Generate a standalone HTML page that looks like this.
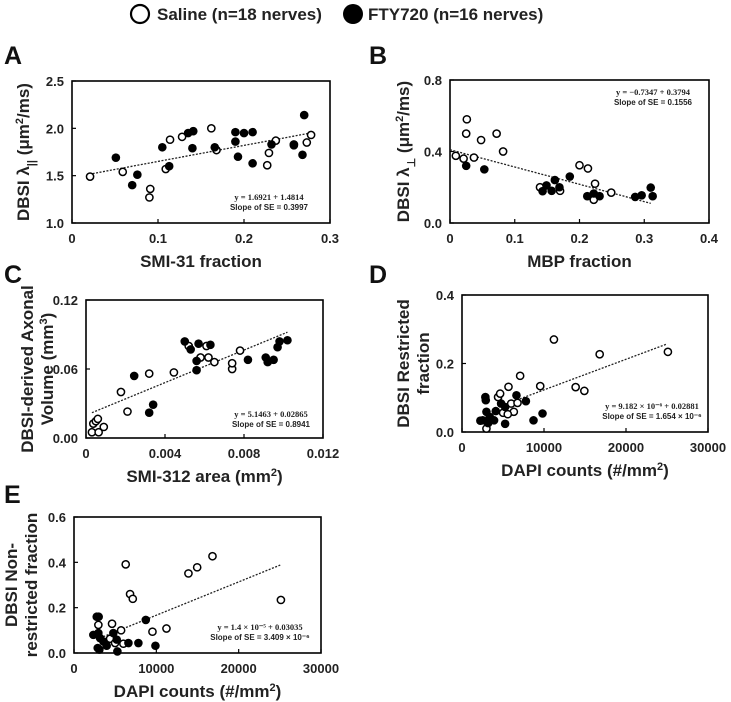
<!DOCTYPE html>
<html><head><meta charset="utf-8">
<style>
html,body{margin:0;padding:0;background:#fff;}
svg{display:block;font-family:"Liberation Sans",Arial,sans-serif;}
.tick{font-size:13px;font-weight:bold;fill:#222;}
.title{font-size:17px;font-weight:bold;fill:#222;}
.letter{font-size:25px;font-weight:bold;fill:#111;}
.eq{font-family:"Liberation Serif",serif;font-size:8.5px;font-weight:bold;fill:#222;}
.eq2{font-size:8px;font-weight:bold;fill:#222;}
</style></head>
<body>
<svg id="fig" width="731" height="702" viewBox="0 0 731 702">
  <g>
    <circle cx="140" cy="14" r="9" fill="#fff" stroke="#000" stroke-width="2.2"/>
    <text x="157" y="20" class="title">Saline (n=18 nerves)</text>
    <circle cx="353" cy="14" r="10" fill="#000"/>
    <text x="368" y="20" class="title">FTY720 (n=16 nerves)</text>
  </g>
  <text x="4" y="64" class="letter">A</text>
  <text x="369" y="64" class="letter">B</text>
  <text x="4" y="283" class="letter">C</text>
  <text x="369" y="283" class="letter">D</text>
  <text x="4" y="503" class="letter">E</text>
</svg>
<script>
// Panel A
const aOpenX=[0.021,0.059,0.091,0.090,0.109,0.114,0.128,0.162,0.168,0.227,0.229,0.237,0.258,0.273,0.278];
const aOpenY=[1.49,1.54,1.36,1.27,1.57,1.88,1.91,2.0,1.77,1.61,1.74,1.87,1.83,1.85,1.93];
const aFillX=[0.051,0.070,0.076,0.105,0.113,0.135,0.141,0.140,0.166,0.190,0.190,0.193,0.200,0.210,0.210,0.232,0.258,0.268,0.270];
const aFillY=[1.69,1.40,1.51,1.80,1.60,1.95,1.97,1.79,1.80,1.96,1.86,1.70,1.95,1.96,1.63,1.83,1.82,1.72,2.14];
const aTrendX=[0.02,0.28];
const aTrendY=[1.515,1.955];
const aXTicks=["0","0.1","0.2","0.3"];
const aYTicks=["1.0","1.5","2.0","2.5"];
// Panel B
const bOpenX=[0.009,0.021,0.026,0.025,0.037,0.048,0.072,0.082,0.139,0.200,0.213,0.224,0.222,0.249,0.170];
const bOpenY=[0.376,0.36,0.58,0.50,0.366,0.464,0.50,0.40,0.20,0.323,0.305,0.22,0.13,0.17,0.18];
const bFillX=[0.025,0.053,0.143,0.149,0.157,0.162,0.169,0.185,0.212,0.222,0.231,0.286,0.296,0.310,0.313];
const bFillY=[0.32,0.30,0.178,0.21,0.18,0.24,0.20,0.26,0.15,0.165,0.15,0.146,0.155,0.198,0.15];
const bTrendX=[0,0.31];
const bTrendY=[0.41,0.11];
const bXTicks=["0","0.1","0.2","0.3","0.4"];
const bYTicks=["0.0","0.4","0.8"];
// Panel C
const cOpenX=[0.0003,0.00064,0.00037,0.0005,0.0006,0.0009,0.00177,0.0021,0.0032,0.00445,0.0052,0.0058,0.0062,0.0065,0.0074,0.0074,0.0078,0.0061];
const cOpenY=[0.005,0.005,0.0125,0.0146,0.0166,0.0096,0.040,0.023,0.056,0.057,0.080,0.070,0.070,0.066,0.060,0.065,0.076,0.080];
const cFillX=[0.00244,0.0032,0.0034,0.0050,0.0053,0.0057,0.0056,0.0056,0.0063,0.0082,0.0091,0.0092,0.0095,0.0097,0.0098,0.0102];
const cFillY=[0.054,0.022,0.029,0.084,0.077,0.082,0.067,0.059,0.081,0.068,0.070,0.066,0.068,0.079,0.084,0.085];
const cTrendX=[0.0003,0.0102];
const cTrendY=[0.022,0.092];
const cXTicks=["0","0.004","0.008","0.012"];
const cYTicks=["0.00","0.06","0.12"];
// Panel D
const dOpenX=[11210,16790,25110,7090,5670,9540,13860,14920,4400,4650,6000,6770,6320,5010,5580,2980];
const dOpenY=[0.27,0.227,0.234,0.164,0.132,0.134,0.131,0.12,0.102,0.112,0.083,0.085,0.059,0.056,0.052,0.01];
const dFillX=[2850,2900,2530,2240,2980,3380,3910,4120,4770,5260,5260,6640,7790,8720,9820,3180];
const dFillY=[0.102,0.093,0.034,0.033,0.059,0.044,0.034,0.061,0.083,0.073,0.024,0.107,0.090,0.034,0.054,0.026];
const dTrendX=[6640,25000];
const dTrendY=[0.093,0.257];
const dXTicks=["0","10000","20000","30000"];
const dYTicks=["0.0","0.2","0.4"];
// Panel E
const eOpenX=[6280,6810,7140,13900,14960,16820,25130,2960,4620,5720,9530,11230,4380,4990,6000];
const eOpenY=[0.391,0.26,0.239,0.351,0.378,0.427,0.234,0.124,0.129,0.10,0.094,0.108,0.063,0.044,0.041];
const eFillX=[2760,3000,2350,2960,3160,3570,3970,2880,3080,4780,5190,5270,6610,7820,8720,9890];
const eFillY=[0.16,0.16,0.08,0.088,0.066,0.051,0.032,0.022,0.015,0.088,0.059,0.007,0.044,0.044,0.146,0.032];
const eTrendX=[3160,25050];
const eTrendY=[0.066,0.388];
const eXTicks=["0","10000","20000","30000"];
const eYTicks=["0.0","0.2","0.4","0.6"];

const NS="http://www.w3.org/2000/svg";
const svg=document.getElementById('fig');
function mk(tag,attrs,parent,txt){const e=document.createElementNS(NS,tag);for(const k in attrs)e.setAttribute(k,attrs[k]);if(txt!==undefined)e.textContent=txt;parent.appendChild(e);return e;}

function panel(id,box,xmax,ymin,ymax,xt,yt,ox,oy,fx,fy,tx,ty,xTitle,yTitles,eq,eqPos){
  const g=mk('g',{},svg);
  
  
  const X=v=>box.l+v/xmax*(box.r-box.l);
  const Y=v=>box.b-(v-ymin)/(ymax-ymin)*(box.b-box.t);
  const fr=mk('rect',{x:box.l,y:box.t,width:box.r-box.l,height:box.b-box.t,fill:'none',stroke:'#000','stroke-width':1.6},g);
  
  
  xt.forEach((t,i)=>{const v=i*xmax/(xt.length-1);const x=X(v);
    mk('line',{x1:x,x2:x,y1:box.b,y2:box.b-4,stroke:'#000','stroke-width':1.2},g);
    const el=mk('text',{x:x,y:box.b+20,'text-anchor':'middle',class:'tick'},g,t);
    
    });
  yt.forEach((t,i)=>{const v=ymin+i*(ymax-ymin)/(yt.length-1);const y=Y(v);
    mk('line',{x1:box.l,x2:box.l+4,y1:y,y2:y,stroke:'#000','stroke-width':1.2},g);
    const el=mk('text',{x:box.l-8,y:y+5,'text-anchor':'end',class:'tick'},g,t);
    
    });
  const tl=mk('line',{x1:X(tx[0]),y1:Y(ty[0]),x2:X(tx[1]),y2:Y(ty[1]),stroke:'#222','stroke-width':1.3,'stroke-dasharray':'2,1.5'},g);
  
  
  ox.forEach((v,i)=>{const c=mk('circle',{cx:X(v),cy:Y(oy[i]),r:3.6,fill:'#fff',stroke:'#000','stroke-width':1.5},g);
    
    });
  fx.forEach((v,i)=>{const c=mk('circle',{cx:X(v),cy:Y(fy[i]),r:4.3,fill:'#000'},g);
    
    });
  const xtl=mk('text',{x:(box.l+box.r)/2,y:box.b+44,'text-anchor':'middle',class:'title'},g,xTitle[0]);
  if(xTitle[1]){mk('tspan',{'baseline-shift':'super','font-size':'11px'},xtl,xTitle[1]);mk('tspan',{},xtl,')');}
  
  
  yTitles.forEach((yt2,k)=>{const cx=yt2.x,cy=(box.t+box.b)/2;
    const el=mk('text',{x:cx,y:cy,'text-anchor':'middle',class:'title',transform:`rotate(-90 ${cx} ${cy})`},g);
    yt2.parts.forEach(p=>{if(p.sup)mk('tspan',{'baseline-shift':'super','font-size':'11px'},el,p.sup);else if(p.sub)mk('tspan',{'baseline-shift':'sub','font-size':'11px'},el,p.sub);else mk('tspan',{},el,p.t);});
    
    });
  const e1=mk('text',{x:eqPos[0],y:eqPos[1],'text-anchor':'middle',class:'eq'},g,eq[0]);
  
  
  const e2=mk('text',{x:eqPos[0],y:eqPos[1]+10,'text-anchor':'middle',class:'eq2'},g,eq[1]);
  
  
}
panel('a',{l:72,r:330,t:81,b:223},0.3,1.0,2.5,aXTicks,aYTicks,aOpenX,aOpenY,aFillX,aFillY,aTrendX,aTrendY,["SMI-31 fraction"],
  [{x:29,parts:[{t:'DBSI λ'},{sub:'||'},{t:' (μm'},{sup:'2'},{t:'/ms)'}]}],["y = 1.6921 + 1.4814","Slope of SE = 0.3997"],[269,200]);
panel('b',{l:450,r:709,t:80,b:223},0.4,0,0.8,bXTicks,bYTicks,bOpenX,bOpenY,bFillX,bFillY,bTrendX,bTrendY,["MBP fraction"],
  [{x:409,parts:[{t:'DBSI λ'},{sub:'⊥'},{t:' (μm'},{sup:'2'},{t:'/ms)'}]}],["y = −0.7347 + 0.3794","Slope of SE = 0.1556"],[653,95]);
panel('c',{l:86,r:323,t:300,b:438},0.012,0,0.12,cXTicks,cYTicks,cOpenX,cOpenY,cFillX,cFillY,cTrendX,cTrendY,["SMI-312 area (mm","2"],
  [{x:33,parts:[{t:'DBSI-derived Axonal'}]},{x:53,parts:[{t:'Volume (mm'},{sup:'3'},{t:')'}]}],["y = 5.1463 + 0.02865","Slope of SE = 0.8941"],[271,417]);
panel('d',{l:462,r:708,t:295,b:432},30000,0,0.4,dXTicks,dYTicks,dOpenX,dOpenY,dFillX,dFillY,dTrendX,dTrendY,["DAPI counts (#/mm","2"],
  [{x:409,parts:[{t:'DBSI Restricted'}]},{x:429,parts:[{t:'fraction'}]}],["y = 9.182 × 10⁻⁶ + 0.02881","Slope of SE = 1.654 × 10⁻⁶"],[652,409]);
panel('e',{l:74,r:321,t:517,b:653},30000,0,0.6,eXTicks,eYTicks,eOpenX,eOpenY,eFillX,eFillY,eTrendX,eTrendY,["DAPI counts (#/mm","2"],
  [{x:17,parts:[{t:'DBSI Non-'}]},{x:37,parts:[{t:'restricted fraction'}]}],["y = 1.4 × 10⁻⁵ + 0.03035","Slope of SE = 3.409 × 10⁻⁶"],[260,630]);
</script>
</body></html>
